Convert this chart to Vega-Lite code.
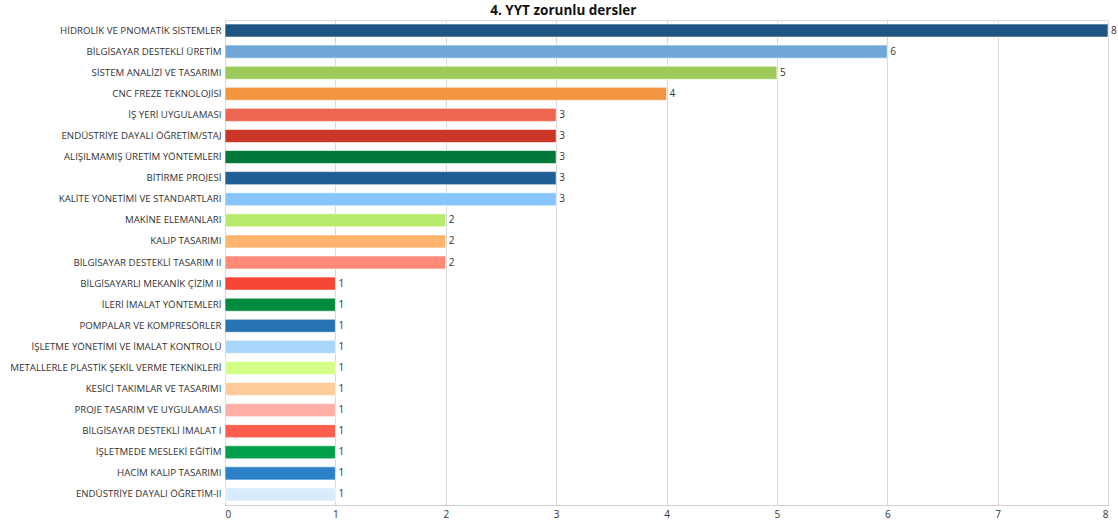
{
  "$schema": "https://vega.github.io/schema/vega-lite/v6.json",
  "width": 883,
  "height": 485,
  "autosize": {"type": "none"},
  "padding": {"left": 225, "top": 20, "right": 10, "bottom": 21},
  "background": "white",
  "title": {
    "text": "4. YYT zorunlu dersler",
    "anchor": "middle",
    "frame": "bounds",
    "font": "Open Sans",
    "fontSize": 13.5,
    "fontWeight": "bold",
    "color": "#111111",
    "offset": 3
  },
  "data": {
    "values": [
      {"ders": "HİDROLİK VE PNOMATİK SİSTEMLER", "sayi": 8, "sira": 1},
      {"ders": "BİLGİSAYAR DESTEKLİ ÜRETİM", "sayi": 6, "sira": 2},
      {"ders": "SİSTEM ANALİZİ VE TASARIMI", "sayi": 5, "sira": 3},
      {"ders": "CNC FREZE TEKNOLOJİSİ", "sayi": 4, "sira": 4},
      {"ders": "İŞ YERİ UYGULAMASI", "sayi": 3, "sira": 5},
      {"ders": "ENDÜSTRİYE DAYALI ÖĞRETİM/STAJ", "sayi": 3, "sira": 6},
      {"ders": "ALIŞILMAMIŞ ÜRETİM YÖNTEMLERİ", "sayi": 3, "sira": 7},
      {"ders": "BİTİRME PROJESİ", "sayi": 3, "sira": 8},
      {"ders": "KALİTE YÖNETİMİ VE STANDARTLARI", "sayi": 3, "sira": 9},
      {"ders": "MAKİNE ELEMANLARI", "sayi": 2, "sira": 10},
      {"ders": "KALIP TASARIMI", "sayi": 2, "sira": 11},
      {"ders": "BİLGİSAYAR DESTEKLİ TASARIM II", "sayi": 2, "sira": 12},
      {"ders": "BİLGİSAYARLI MEKANİK ÇİZİM II", "sayi": 1, "sira": 13},
      {"ders": "İLERİ İMALAT YÖNTEMLERİ", "sayi": 1, "sira": 14},
      {"ders": "POMPALAR VE KOMPRESÖRLER", "sayi": 1, "sira": 15},
      {"ders": "İŞLETME YÖNETİMİ VE İMALAT KONTROLÜ", "sayi": 1, "sira": 16},
      {"ders": "METALLERLE PLASTİK ŞEKİL VERME TEKNİKLERİ", "sayi": 1, "sira": 17},
      {"ders": "KESİCİ TAKIMLAR VE TASARIMI", "sayi": 1, "sira": 18},
      {"ders": "PROJE TASARIM VE UYGULAMASI", "sayi": 1, "sira": 19},
      {"ders": "BİLGİSAYAR DESTEKLİ İMALAT I", "sayi": 1, "sira": 20},
      {"ders": "İŞLETMEDE MESLEKİ EĞİTİM", "sayi": 1, "sira": 21},
      {"ders": "HACİM KALIP TASARIMI", "sayi": 1, "sira": 22},
      {"ders": "ENDÜSTRİYE DAYALI ÖĞRETİM-II", "sayi": 1, "sira": 23}
    ]
  },
  "encoding": {
    "y": {
      "field": "ders",
      "type": "nominal",
      "sort": {"field": "sira", "order": "ascending"},
      "scale": {"paddingInner": 0.38, "paddingOuter": 0.19},
      "axis": {
        "title": null,
        "ticks": false,
        "domain": false,
        "labelFont": "Open Sans",
        "labelFontSize": 9.7,
        "labelColor": "#333333",
        "labelPadding": 4,
        "labelLimit": 240
      }
    },
    "x": {
      "field": "sayi",
      "type": "quantitative",
      "scale": {"domain": [0, 8], "nice": false},
      "axis": {
        "title": null,
        "values": [0, 1, 2, 3, 4, 5, 6, 7, 8],
        "labelOverlap": false,
        "ticks": false,
        "domainColor": "#d0d0d0",
        "gridColor": "#d9d9d9",
        "labelFont": "Open Sans",
        "labelFontSize": 10,
        "labelColor": "#333333",
        "labelPadding": 4
      }
    }
  },
  "layer": [
    {
      "mark": {"type": "bar", "stroke": "white", "strokeWidth": 1, "strokeOpacity": 0.6},
      "encoding": {
        "color": {
          "field": "ders",
          "type": "nominal",
          "legend": null,
          "scale": {
            "domain": [
              "HİDROLİK VE PNOMATİK SİSTEMLER", "BİLGİSAYAR DESTEKLİ ÜRETİM", "SİSTEM ANALİZİ VE TASARIMI",
              "CNC FREZE TEKNOLOJİSİ", "İŞ YERİ UYGULAMASI", "ENDÜSTRİYE DAYALI ÖĞRETİM/STAJ",
              "ALIŞILMAMIŞ ÜRETİM YÖNTEMLERİ", "BİTİRME PROJESİ", "KALİTE YÖNETİMİ VE STANDARTLARI",
              "MAKİNE ELEMANLARI", "KALIP TASARIMI", "BİLGİSAYAR DESTEKLİ TASARIM II",
              "BİLGİSAYARLI MEKANİK ÇİZİM II", "İLERİ İMALAT YÖNTEMLERİ", "POMPALAR VE KOMPRESÖRLER",
              "İŞLETME YÖNETİMİ VE İMALAT KONTROLÜ", "METALLERLE PLASTİK ŞEKİL VERME TEKNİKLERİ",
              "KESİCİ TAKIMLAR VE TASARIMI", "PROJE TASARIM VE UYGULAMASI", "BİLGİSAYAR DESTEKLİ İMALAT I",
              "İŞLETMEDE MESLEKİ EĞİTİM", "HACİM KALIP TASARIMI", "ENDÜSTRİYE DAYALI ÖĞRETİM-II"
            ],
            "range": [
              "#1f5582", "#6fa8d6", "#9bc95a", "#f39642", "#ef6650", "#cc3627",
              "#04773a", "#215e96", "#88c5ff", "#b8ea6b", "#ffb36d", "#ff8a78",
              "#f54534", "#008b3d", "#2873b4", "#aad6fb", "#d3ff87", "#ffcc99",
              "#ffb0a6", "#ff5d4d", "#00a04a", "#2c82c9", "#d8ecfd"
            ]
          }
        }
      }
    },
    {
      "mark": {"type": "text", "align": "left", "baseline": "middle", "dx": 3, "font": "Open Sans", "fontSize": 10, "color": "#333333"},
      "encoding": {"text": {"field": "sayi", "type": "quantitative"}}
    }
  ]
}
